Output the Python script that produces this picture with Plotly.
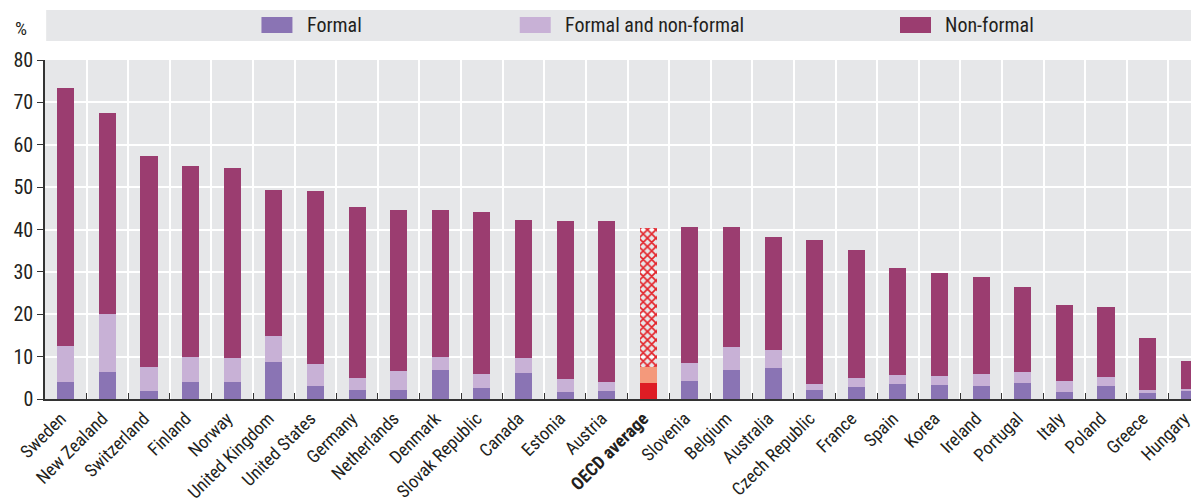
import plotly.graph_objects as go

countries = ["Sweden", "New Zealand", "Switzerland", "Finland", "Norway", "United Kingdom",
             "United States", "Germany", "Netherlands", "Denmark", "Slovak Republic", "Canada",
             "Estonia", "Austria", "OECD average", "Slovenia", "Belgium", "Australia",
             "Czech Republic", "France", "Spain", "Korea", "Ireland", "Portugal", "Italy",
             "Poland", "Greece", "Hungary"]

formal = [3.9, 6.4, 1.9, 3.9, 3.9, 8.7, 3.1, 2.1, 2.1, 6.8, 2.6, 6.1, 1.7, 1.9, 3.8,
          4.3, 6.8, 7.3, 2.1, 2.8, 3.5, 3.3, 3.1, 3.8, 1.7, 3.1, 1.4, 1.9]
formal_nonformal = [8.6, 13.6, 5.7, 6.0, 5.8, 6.2, 5.2, 2.9, 4.5, 3.1, 3.3, 3.6, 3.1, 2.1, 3.8,
                    4.2, 5.5, 4.3, 1.4, 2.2, 2.2, 2.1, 2.8, 2.6, 2.6, 2.1, 0.7, 0.5]
nonformal = [60.9, 47.6, 49.7, 45.1, 44.8, 34.4, 40.8, 40.3, 38.1, 34.7, 38.2, 32.5, 37.2, 38.0,
             32.7, 32.1, 28.3, 26.6, 34.0, 30.1, 25.2, 24.3, 22.9, 20.0, 17.8, 16.5, 12.3, 6.5]

series_names = ["Formal", "Formal and non-formal", "Non-formal"]
series_colors = ["#8A74B4", "#C8B1D6", "#9B3D70"]
oecd_colors = ["#DE1C24", "#F4997B", "#E3242B"]
y_ticks = [0, 10, 20, 30, 40, 50, 60, 70, 80]

FONT = "Liberation Sans Narrow, Roboto Condensed, Arial Narrow, Arial, sans-serif"
TXT = "#231F20"

labels = [f"<b>{c}</b>" if c == "OECD average" else c for c in countries]
is_oecd = [c == "OECD average" for c in countries]

fig = go.Figure()
for i, (name, vals) in enumerate(zip(series_names, [formal, formal_nonformal, nonformal])):
    colors = [oecd_colors[i] if o else series_colors[i] for o in is_oecd]
    marker = dict(color=colors, line=dict(width=0))
    if i == 2:
        marker["pattern"] = dict(
            shape=["x" if o else "" for o in is_oecd],
            fgcolor=[oecd_colors[i] if o else series_colors[i] for o in is_oecd],
            bgcolor=["white" if o else series_colors[i] for o in is_oecd],
            size=6, solidity=0.5, fillmode="replace")
    fig.add_trace(go.Bar(x=labels, y=vals, name=name, marker=marker, showlegend=False))

# custom legend band
shapes = [dict(type="rect", xref="paper", yref="paper", x0=0.001, x1=1.0, y0=1.056, y1=1.1475,
               fillcolor="#E6E7E9", line=dict(width=0), layer="below")]
annotations = []
leg_x = [0.1858, 0.4075, 0.7339]
for name, col, x0 in zip(series_names, series_colors, leg_x):
    shapes.append(dict(type="rect", xref="paper", yref="paper", x0=x0, x1=x0 + 0.0266,
                       y0=1.0796, y1=1.1268, fillcolor=col, line=dict(width=0)))
    annotations.append(dict(text=name, xref="paper", yref="paper", x=x0 + 0.037, y=1.1032,
                            xanchor="left", yanchor="middle", showarrow=False,
                            font=dict(family=FONT, size=20, color=TXT)))
annotations.append(dict(text="%", xref="paper", yref="paper", x=-0.021, y=1.094,
                        xanchor="center", yanchor="middle", showarrow=False,
                        font=dict(family=FONT, size=19, color=TXT)))

fig.update_layout(
    width=1202, height=496,
    margin=dict(l=37, r=0, t=52, b=105, autoexpand=False),
    barmode="stack", bargap=0.59,
    plot_bgcolor="#E6E7E9", paper_bgcolor="white",
    font=dict(family=FONT, color=TXT),
    shapes=shapes, annotations=annotations,
    xaxis=dict(type="category", tickson="boundaries", showgrid=True, gridcolor="white",
               gridwidth=1.5, ticks="inside", ticklen=6, tickcolor="#333333", tickwidth=1,
               showline=True, linecolor="#333333", linewidth=2, tickangle=-45,
               ticklabelshift=-5,
               tickfont=dict(family=FONT, size=18, color=TXT), zeroline=False),
    yaxis=dict(range=[0, 80], tickvals=y_ticks, showgrid=True, gridcolor="white", gridwidth=1.5,
               ticks="outside", ticklen=6, tickcolor="#333333", showline=True,
               linecolor="#333333", linewidth=1.5, zeroline=False,
               tickfont=dict(family=FONT, size=20, color=TXT)),
)
fig.write_html("out.html")
